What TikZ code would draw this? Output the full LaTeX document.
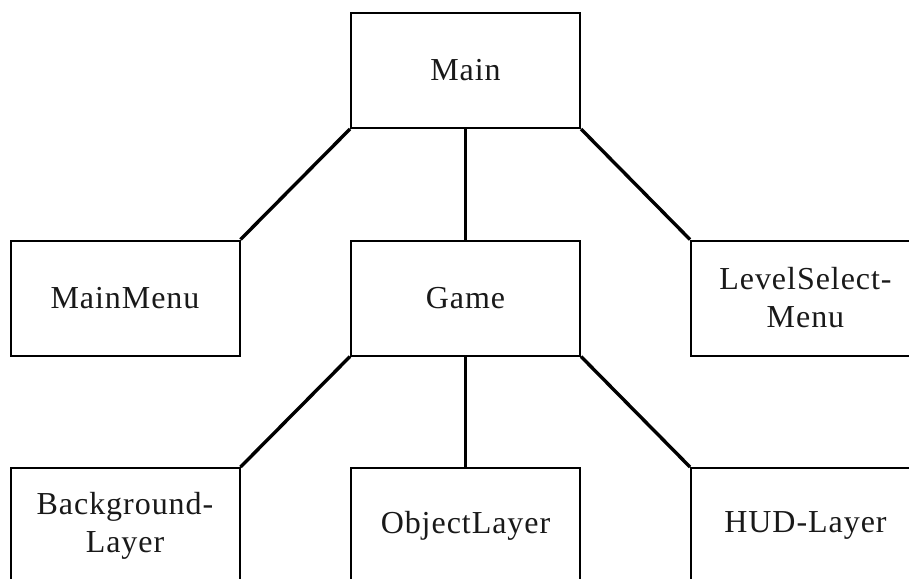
\documentclass[tikz,border=0pt]{standalone}
\usepackage{fontspec}
\setmainfont[LetterSpace=3]{Liberation Serif}
\begin{document}
\begin{tikzpicture}[x=1pt,y=1pt,
  box/.style={draw=black, line width=2pt, fill=white, minimum width=229pt, minimum height=115pt,
    inner sep=0pt, align=center, font=\fontsize{32}{38}\selectfont, text=black!90},
  link/.style={line width=3.4pt, black}]
\useasboundingbox (0,0) rectangle (909,-578);
\clip (0,0) rectangle (909,-578);
\node[box] (main) at (465.5,-70.5) {Main};
\node[box] (mm) at (125,-298) {MainMenu};
\node[box] (game) at (465.5,-298) {Game};
\node[box] (lsm) at (805.5,-298) {LevelSelect-\\Menu};
\node[box] (bg) at (125,-525.5) {Background-\\Layer};
\node[box] (obj) at (465.5,-525.5) {ObjectLayer};
\node[box] (hud) at (805.5,-525.5) {HUD-Layer};
\draw[link] (main.south west) -- (mm.north east);
\draw[link] (main.south) -- (game.north);
\draw[link] (main.south east) -- (lsm.north west);
\draw[link] (game.south west) -- (bg.north east);
\draw[link] (game.south) -- (obj.north);
\draw[link] (game.south east) -- (hud.north west);
\end{tikzpicture}
\end{document}
